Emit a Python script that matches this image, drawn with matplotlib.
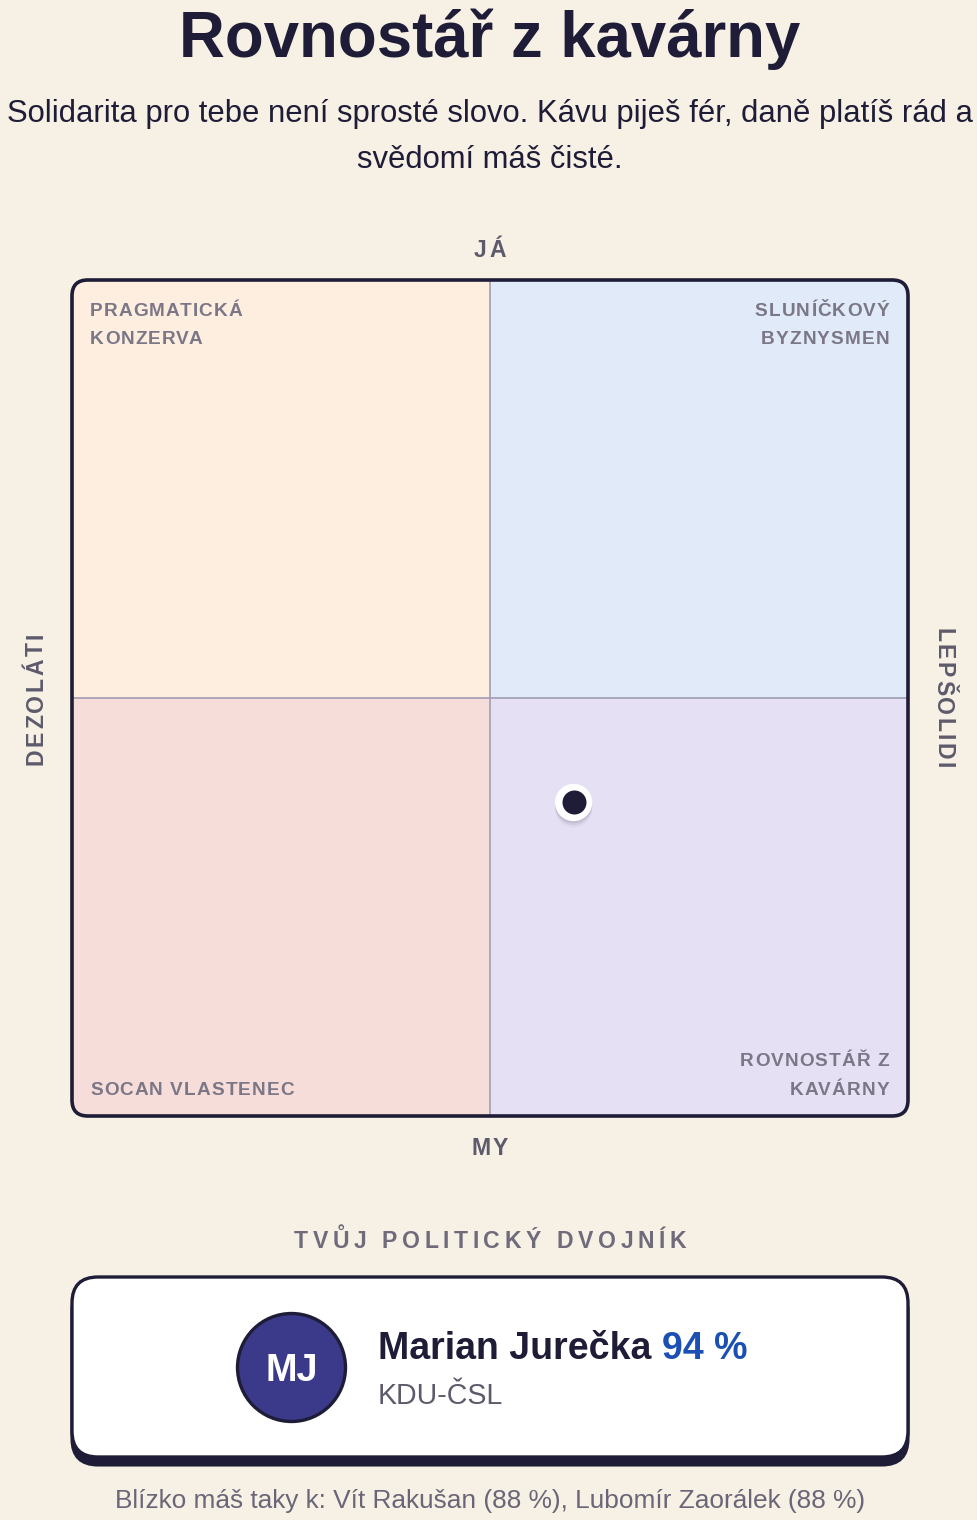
import matplotlib
matplotlib.use('Agg')
import matplotlib.pyplot as plt
from matplotlib.patches import FancyBboxPatch, Rectangle, Circle
from matplotlib.font_manager import FontProperties
import matplotlib.patheffects as pe

# ---------------- data ----------------
title = "Rovnostář z kavárny"
subtitle_lines = ["Solidarita pro tebe není sprosté slovo. Kávu piješ fér, daně platíš rád a",
                  "svědomí máš čisté."]
axis_top = "JÁ"
axis_bottom = "MY"
axis_left = "DEZOLÁTI"
axis_right = "LEPŠOLIDI"
quad_tl = ["PRAGMATICKÁ", "KONZERVA"]
quad_tr = ["SLUNÍČKOVÝ", "BYZNYSMEN"]
quad_bl = ["SOCAN VLASTENEC"]
quad_br = ["ROVNOSTÁŘ Z", "KAVÁRNY"]
quad_x0 = [-1, 0, -1, 0]
quad_y0 = [0, 0, -1, -1]
quad_colors = ['#fdeee0', '#e1eaf8', '#f6ddd9', '#e6e0f4']
user_x = [0.2]
user_y = [-0.25]
twin_heading = "TVŮJ POLITICKÝ DVOJNÍK"
twin_name = "Marian Jurečka"
twin_initials = "MJ"
twin_party = "KDU-ČSL"
twin_match = 94
other_names = ["Vít Rakušan", "Lubomír Zaorálek"]
other_match = [88, 88]

# ---------------- style ----------------
W, H, DPI = 978, 1520, 100
BG = '#f6f0e5'
DARK = '#1e1c36'
GRAY_AX = '#5d5a6b'
GRAY_Q = '#7b7787'
FONT = 'Liberation Sans'

fig = plt.figure(figsize=(W / DPI, H / DPI), dpi=DPI, facecolor=BG)

# chart axes (below the overlay)
L, T, R, B = 72, 280, 908, 1116
ax = fig.add_axes([L / W, 1 - B / H, (R - L) / W, (B - T) / H])
ax.set_zorder(1)
ax.set_xlim(-1, 1)
ax.set_ylim(-1, 1)
ax.axis('off')

# transparent overlay in pixel coordinates for text & card
bg = fig.add_axes([0, 0, 1, 1])
bg.set_zorder(2)
bg.set_xlim(0, W)
bg.set_ylim(H, 0)
bg.axis('off')
renderer = fig.canvas.get_renderer()


def pt(px):
    return px * 72 / DPI


def tw(s, prop):
    return renderer.get_text_width_height_descent(s, prop, ismath=False)[0]


def spaced(x, y, s, size_px, spacing, color, weight='bold', ha='left', rotation=0):
    prop = FontProperties(family=FONT, weight=weight, size=pt(size_px))
    total = tw(s, prop) + spacing * (len(s) - 1)
    dx, dy = {0: (1, 0), 90: (0, -1), -90: (0, 1)}[rotation]
    off = {'left': 0, 'center': -total / 2, 'right': -total}[ha]
    for i, c in enumerate(s):
        if c == ' ':
            continue
        start = tw(s[:i + 1], prop) - tw(c, prop) + spacing * i + off
        bg.text(x + dx * start, y + dy * start, c, fontproperties=prop, color=color,
                rotation=rotation, rotation_mode='anchor', ha='left', va='baseline')


# title & subtitle
bg.text(490, 57, title, family=FONT, weight='bold', size=pt(63.5), color=DARK,
        ha='center', va='baseline')
for i, line in enumerate(subtitle_lines):
    bg.text(490, 122 + 46 * i, line, family=FONT, size=pt(31), color=DARK,
            ha='center', va='baseline')

# axis labels
spaced(490, 257, axis_top, 23, 2.5, GRAY_AX, ha='center')
spaced(490, 1155, axis_bottom, 23, 2.5, GRAY_AX, ha='center')
spaced(43, 699, axis_left, 23, 2.5, GRAY_AX, ha='center', rotation=90)
spaced(936, 698, axis_right, 23, 2.5, GRAY_AX, ha='center', rotation=-90)

# quadrants
clip = FancyBboxPatch((0, 0), 1, 1, boxstyle='round,pad=0,rounding_size=0.019',
                      transform=ax.transAxes, facecolor='none', edgecolor='none')
ax.add_patch(clip)
for x0, y0, c in zip(quad_x0, quad_y0, quad_colors):
    r = Rectangle((x0, y0), 1, 1, facecolor=c, edgecolor='none', zorder=1)
    ax.add_patch(r)
    r.set_clip_path(clip)
ax.axvline(0, color='#a19db3', lw=1.2, zorder=2)
ax.axhline(0, color='#a19db3', lw=1.2, zorder=2)
border = FancyBboxPatch((0, 0), 1, 1, boxstyle='round,pad=0,rounding_size=0.019',
                        transform=ax.transAxes, facecolor='none', edgecolor=DARK,
                        lw=2.6, zorder=10, clip_on=False)
ax.add_patch(border)

ax.scatter(user_x, user_y, s=720, c='white', linewidths=0, zorder=5,
           path_effects=[pe.SimplePatchShadow(offset=(0, -1.5), shadow_rgbFace='#3a3450', alpha=0.10),
                         pe.SimplePatchShadow(offset=(0, -3), shadow_rgbFace='#3a3450', alpha=0.07),
                         pe.SimplePatchShadow(offset=(0, -4.5), shadow_rgbFace='#3a3450', alpha=0.04),
                         pe.Normal()])
ax.scatter(user_x, user_y, s=299, c=DARK, linewidths=0, zorder=6)

# quadrant labels
QS = 19
for i, t in enumerate(quad_tl):
    spaced(90, 316 + 28 * i, t, QS, 1.1, GRAY_Q)
for i, t in enumerate(quad_tr):
    spaced(889, 316 + 28 * i, t, QS, 1.1, GRAY_Q, ha='right')
for i, t in enumerate(quad_bl):
    spaced(90, 1095 + 28 * i, t, QS, 1.1, GRAY_Q)
for i, t in enumerate(quad_br):
    spaced(889, 1066 + 29 * i, t, QS, 1.1, GRAY_Q, ha='right')

# twin heading
spaced(490, 1248, twin_heading, 23, 4.6, '#6f6b7b', ha='center')

# card
shadow = FancyBboxPatch((72, 1285), 836, 180, boxstyle='round,pad=0,rounding_size=26',
                        facecolor=DARK, edgecolor=DARK, lw=2.2)
bg.add_patch(shadow)
card = FancyBboxPatch((72, 1277), 836, 180, boxstyle='round,pad=0,rounding_size=26',
                      facecolor='white', edgecolor=DARK, lw=2.4)
bg.add_patch(card)
bg.add_patch(Circle((291.5, 1367.5), 54, facecolor='#3b3a8a', edgecolor=DARK, lw=2.4))
bg.text(291.5, 1381, twin_initials, family=FONT, weight='bold', size=pt(38),
        color='white', ha='center', va='baseline')

name_prop = FontProperties(family=FONT, weight='bold', size=pt(37.5))
bg.text(378, 1359, twin_name, fontproperties=name_prop, color=DARK, ha='left', va='baseline')
space_w = tw("a a", name_prop) - tw("aa", name_prop)
bg.text(378 + tw(twin_name, name_prop) + space_w, 1359, f"{twin_match} %",
        fontproperties=name_prop, color='#1b4fb4', ha='left', va='baseline')
bg.text(378, 1404, twin_party, family=FONT, size=pt(28.5), color=GRAY_AX,
        ha='left', va='baseline')

others = ", ".join(f"{n} ({m} %)" for n, m in zip(other_names, other_match))
bg.text(490, 1508, f"Blízko máš taky k: {others}", family=FONT, size=pt(26.3),
        color='#6a6677', ha='center', va='baseline')

fig.savefig('out.png', dpi=DPI, facecolor=BG)
